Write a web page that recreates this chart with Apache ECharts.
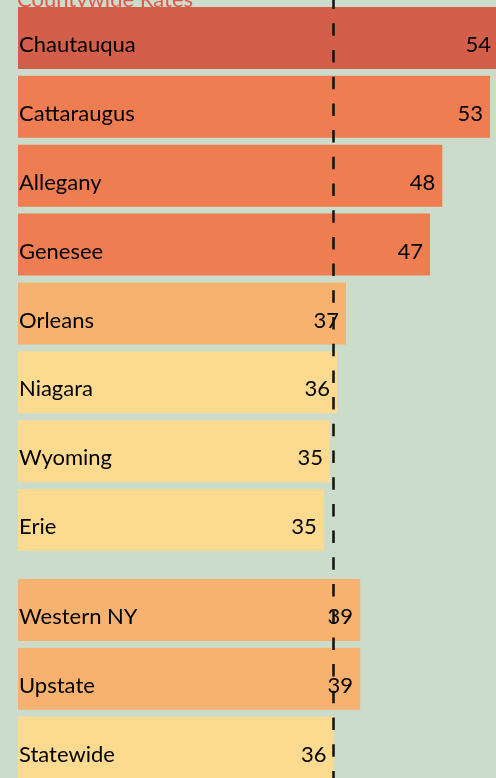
<!DOCTYPE html>
<html>
<head>
<meta charset="utf-8">
<script src="https://cdn.jsdelivr.net/npm/echarts@6/dist/echarts.min.js"></script>
<style>
  html, body { margin: 0; padding: 0; background: #cbdccb; }
  #chart { width: 496px; height: 778px; }
</style>
</head>
<body>
<div id="chart"></div>
<script>
// counties (top block) and regions (bottom block)
var counties = ['Chautauqua', 'Cattaraugus', 'Allegany', 'Genesee', 'Orleans', 'Niagara', 'Wyoming', 'Erie'];
var countyRates = [54.3, 53.4, 48.0, 46.6, 37.1, 36.1, 35.3, 34.6];
var regions = ['Western NY', 'Upstate', 'Statewide'];
var regionRates = [38.7, 38.7, 35.7];
var statewideRef = 35.7;

var FONT = 'Lato';

function barColor(v) {
  if (v >= 54) return '#d35e4a';
  if (v >= 40) return '#ef7d52';
  if (v >= 36.5) return '#f6b26e';
  return '#fcdb91';
}

var myChart = echarts.init(document.getElementById('chart'));

function catAxis(idx, names) {
  return {
    type: 'category',
    gridIndex: idx,
    data: names,
    inverse: true,
    z: 10,
    axisLine: { show: false },
    axisTick: { show: false },
    splitLine: { show: false },
    axisLabel: {
      inside: true,
      margin: 1,
      formatter: function (v) { return '{n|' + v + '}'; },
      rich: {
        n: {
          color: '#000',
          fontFamily: FONT,
          fontSize: 22,
          padding: [14, 0, 0, 0]
        }
      }
    }
  };
}

function valAxis(idx) {
  return {
    type: 'value',
    gridIndex: idx,
    min: 0,
    max: 55,
    show: false
  };
}

function barSeries(idx, values) {
  return {
    type: 'bar',
    xAxisIndex: idx,
    yAxisIndex: idx,
    data: values,
    barWidth: 62,
    itemStyle: {
      color: function (p) { return barColor(p.value); }
    },
    label: {
      show: true,
      position: 'insideRight',
      distance: 7,
      offset: [0, 7],
      color: '#000',
      fontFamily: FONT,
      fontSize: 22,
      formatter: function (p) { return Math.round(p.value); }
    }
  };
}

option = {
  backgroundColor: '#cbdccb',
  animation: false,
  title: {
    text: 'Countywide Rates',
    left: 12,
    top: -16,
    textStyle: {
      color: '#e0584a',
      fontFamily: FONT,
      fontWeight: 'normal',
      fontSize: 22
    }
  },
  grid: [
    { left: 18, width: 486.2, top: 3.57, height: 550.9, outerBoundsMode: 'none' },
    { left: 18, width: 486.2, top: 575.57, height: 206.6, outerBoundsMode: 'none' },
    { left: 18, width: 486.2, top: -3.4, height: 790, outerBoundsMode: 'none' }
  ],
  xAxis: [valAxis(0), valAxis(1), valAxis(2)],
  yAxis: [
    catAxis(0, counties),
    catAxis(1, regions),
    { type: 'value', gridIndex: 2, min: 0, max: 1, inverse: true, show: false }
  ],
  series: [
    barSeries(0, countyRates),
    barSeries(1, regionRates),
    {
      // statewide reference line across both blocks
      type: 'line',
      xAxisIndex: 2,
      yAxisIndex: 2,
      data: [],
      z: 20,
      markLine: {
        silent: true,
        symbol: 'none',
        label: { show: false },
        lineStyle: { color: '#111', width: 2.5, type: [12.5, 14.2] },
        data: [{ xAxis: statewideRef }]
      }
    }
  ]
};

myChart.setOption(option);
</script>
</body>
</html>
